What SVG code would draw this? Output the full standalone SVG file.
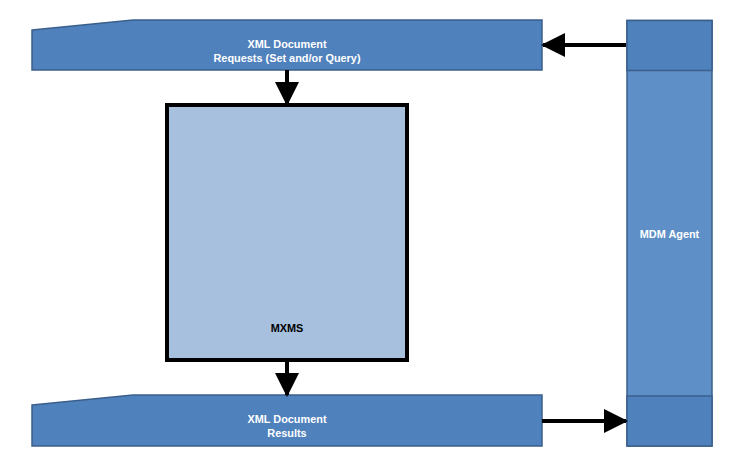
<svg xmlns="http://www.w3.org/2000/svg" width="744" height="469" viewBox="0 0 744 469">
<defs>
<style>
.bar{fill:#4f81bd;stroke:#3a5f8c;stroke-width:1.5}
.wt{font-family:"Liberation Sans",Arial,sans-serif;font-weight:bold;font-size:10.9px;fill:#ffffff;text-anchor:middle}
.bt{font-family:"Liberation Sans",Arial,sans-serif;font-weight:bold;font-size:10.9px;fill:#000000;text-anchor:middle}
.conn{stroke:#000;stroke-width:4;fill:none}
</style>
<marker id="ah" markerWidth="6" markerHeight="6" refX="5.5" refY="3" orient="auto" markerUnits="strokeWidth">
<path d="M0,0 L6,3 L0,6 Z" fill="#000"/>
</marker>
</defs>
<rect width="744" height="469" fill="#ffffff"/>
<g id="requests">
<path class="bar" d="M32,30 L133,20 L542,20 L542,70 L32,70 Z"/>
<text class="wt" x="287" y="48">XML Document</text>
<text class="wt" x="287" y="62">Requests (Set and/or Query)</text>
</g>
<g id="results">
<path class="bar" d="M32,405 L133,395 L542,395 L542,446 L32,446 Z"/>
<text class="wt" x="287" y="423">XML Document</text>
<text class="wt" x="287" y="437">Results</text>
</g>
<g id="mdm-agent">
<rect x="627" y="20.5" width="85" height="425.5" fill="#5f8fc7" stroke="#3a5f8c" stroke-width="1.5"/>
<rect x="627" y="20.5" width="85" height="50" fill="#4f81bd" stroke="#3a5f8c" stroke-width="1.5"/>
<rect x="627" y="396" width="85" height="50" fill="#4f81bd" stroke="#3a5f8c" stroke-width="1.5"/>
<text class="wt" x="669.5" y="238">MDM Agent</text>
</g>
<g id="mxms">
<rect x="167" y="105" width="240" height="255" fill="#a7c0de" stroke="#000" stroke-width="4"/>
<text class="bt" x="287" y="332">MXMS</text>
</g>
<g id="connectors">
<line class="conn" x1="626" y1="45" x2="543" y2="45" marker-end="url(#ah)"/>
<line class="conn" x1="287" y1="70" x2="287" y2="104" marker-end="url(#ah)"/>
<line class="conn" x1="287" y1="362" x2="287" y2="395" marker-end="url(#ah)"/>
<line class="conn" x1="542" y1="421" x2="626" y2="421" marker-end="url(#ah)"/>
</g>
</svg>
